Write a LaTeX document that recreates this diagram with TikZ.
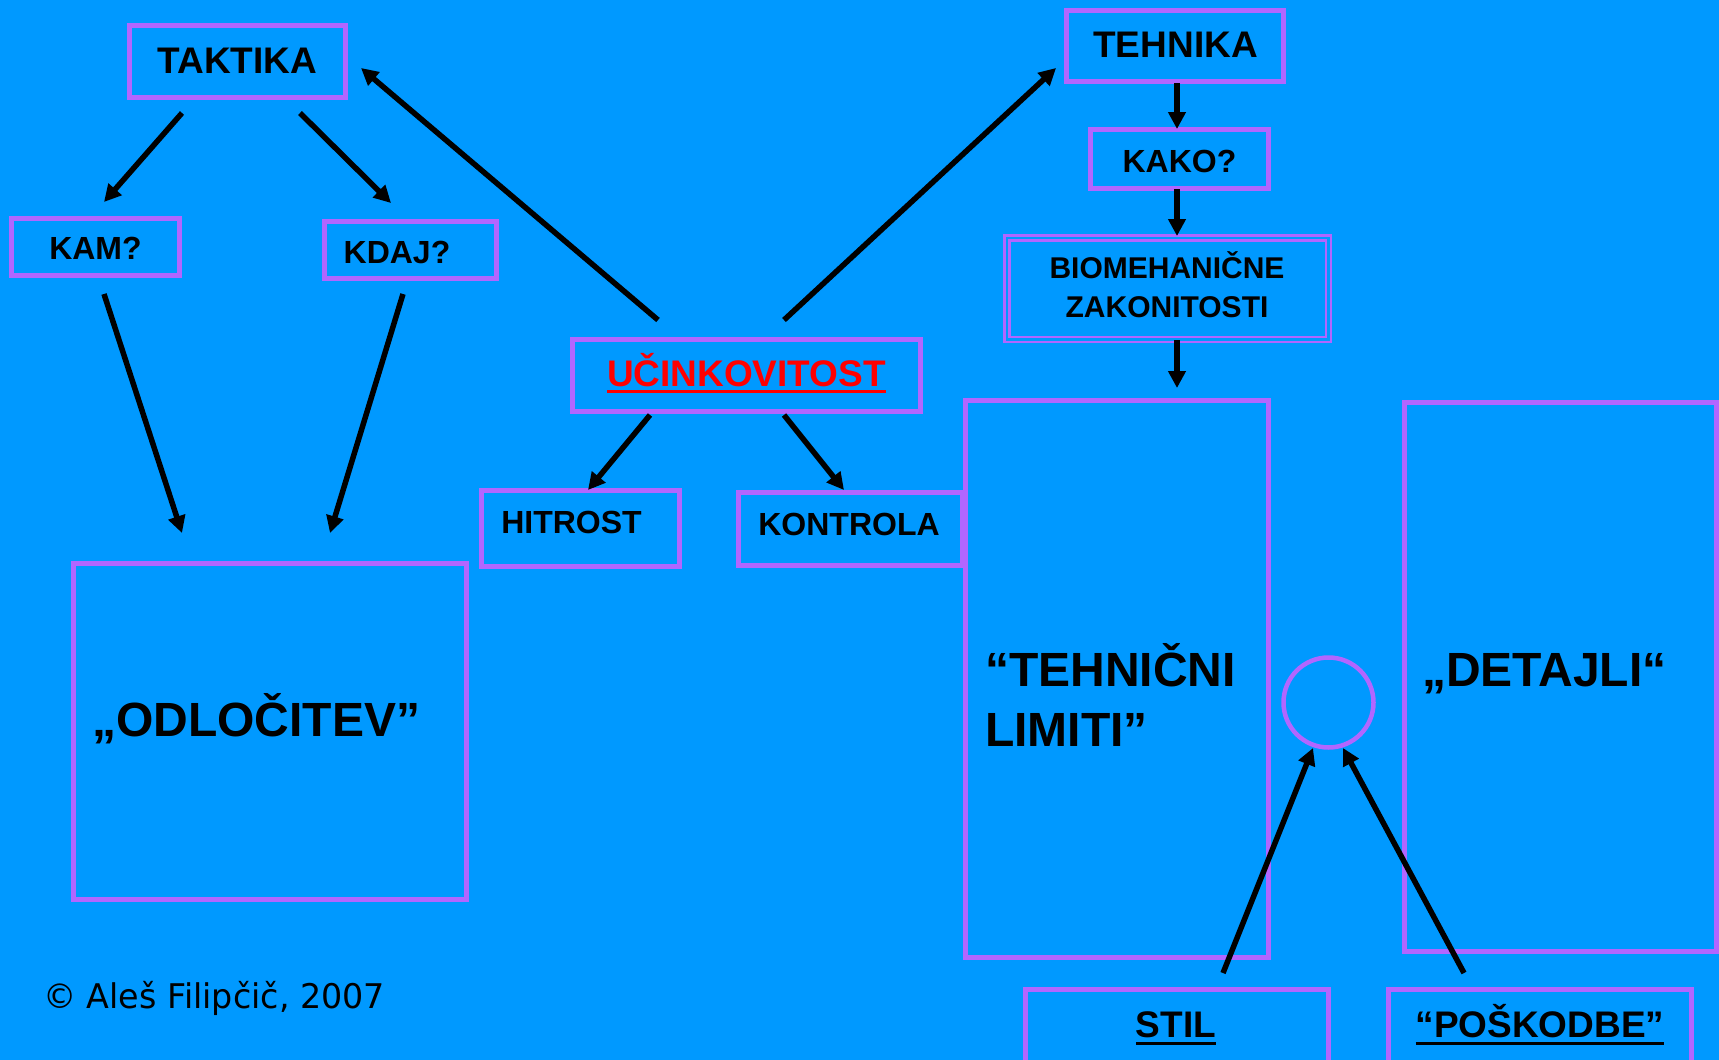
\documentclass[tikz,border=0pt]{standalone}
\usepackage{fontspec}
\setmainfont{Liberation Sans}
\newfontfamily\copyfont[FakeStretch=0.98]{DejaVu Sans}
\usetikzlibrary{arrows.meta}
\definecolor{bgblue}{RGB}{0,153,255}
\definecolor{boxpurple}{RGB}{178,102,255}
\definecolor{ucred}{RGB}{255,0,0}
\begin{document}
\begin{tikzpicture}[x=1pt,y=-1pt,
  box/.style={draw=boxpurple, line width=5pt, rectangle, inner sep=0pt, outer sep=0pt},
  dbox/.style={draw=boxpurple, line width=2.5pt, double=bgblue, double distance=2.5pt, rectangle, inner sep=0pt, outer sep=0pt},
  txt/.style={inner sep=0pt, outer sep=0pt, anchor=base, text=black},
  ftitle/.style={font=\fontsize{37pt}{44pt}\selectfont\bfseries},
  fsmall/.style={font=\fontsize{32pt}{38pt}\selectfont\bfseries},
  fbio/.style={font=\fontsize{30pt}{39pt}\selectfont\bfseries},
  fbig/.style={font=\fontsize{48pt}{60pt}\selectfont\bfseries},
  arr/.style={line width=5.5pt, draw=black, -{Triangle[length=17pt,width=17pt]}},
  uline/.style={draw=black, line width=3.5pt}
]
\useasboundingbox (0,0) rectangle (1719,1060);
\fill[bgblue] (0,0) rectangle (1719,1060);
\begin{scope}
\clip (0,0) rectangle (1719,1060);

% boxes
\node[box, minimum width=216pt, minimum height=72pt] (taktika) at (237.5,61.5) {};
\node[box, minimum width=168pt, minimum height=57pt] (kam) at (95.5,247) {};
\node[box, minimum width=172pt, minimum height=57pt] (kdaj) at (410.5,250) {};
\node[box, minimum width=217pt, minimum height=71pt] (tehnika) at (1175,46) {};
\node[box, minimum width=178pt, minimum height=59pt] (kako) at (1179.5,159) {};
\node[dbox, minimum width=321.5pt, minimum height=101.5pt] (bio) at (1167.5,288.5) {};
\node[box, minimum width=348pt, minimum height=72pt] (uc) at (746.5,375.5) {};
\node[box, minimum width=198pt, minimum height=76pt] (hitrost) at (580.5,528.5) {};
\node[box, minimum width=224pt, minimum height=73pt] (kontrola) at (850.5,529) {};
\node[box, minimum width=303pt, minimum height=557pt] (tehnicni) at (1117,679) {};
\node[box, minimum width=312pt, minimum height=549pt] (detajli) at (1560.5,677) {};
\node[box, minimum width=393pt, minimum height=336pt] (odl) at (270,731.5) {};
\node[box, minimum width=303pt, minimum height=90pt] (stil) at (1177,1034.5) {};
\node[box, minimum width=303pt, minimum height=90pt] (poskodbe) at (1540,1034.5) {};
\node[draw=boxpurple, line width=4.5pt, circle, inner sep=0pt, minimum size=90pt] (krog) at (1328.5,702.5) {};

% texts
\node[txt, ftitle] (taktikaT) at (237.5,73) {TAKTIKA};
\node[txt, fsmall] (kamT) at (95.5,259) {KAM?};
\node[txt, fsmall] (kdajT) at (397,263) {KDAJ?};
\node[txt, ftitle] (tehnikaT) at (1175.5,57) {TEHNIKA};
\node[txt, fsmall] (kakoT) at (1179.5,172) {KAKO?};
\node[txt, fbio, align=center] (bioT) at (1167,317) {BIOMEHANIČNE\\ZAKONITOSTI};
\node[txt, ftitle, text=ucred] (ucT) at (746.5,386) {UČINKOVITOST};
\draw[draw=ucred, line width=3pt] ([yshift=-5.5pt]ucT.base west) -- ([yshift=-5.5pt]ucT.base east);
\node[txt, fsmall] (hitrostT) at (571.5,533) {HITROST};
\node[txt, fsmall] (kontrolaT) at (849,535) {KONTROLA};
\node[txt, fbig, anchor=base west] (odlT) at (92,736) {„ODLOČITEV”};
\node[txt, fbig, anchor=base west, align=left] (tehnicniT) at (985,746) {“TEHNIČNI\\LIMITI”};
\node[txt, fbig, anchor=base west] (detajliT) at (1422,686) {„DETAJLI“};
\node[txt, ftitle] (stilT) at (1176,1037) {STIL};
\draw[uline] ([yshift=-6.5pt]stilT.base west) -- ([yshift=-6.5pt]stilT.base east);
\node[txt, ftitle] (poskodbeT) at (1540,1037) {“POŠKODBE”};
\draw[uline] ([yshift=-6.5pt]poskodbeT.base west) -- ([yshift=-6.5pt]poskodbeT.base east);
\node[txt, anchor=base west, font=\copyfont\fontsize{34pt}{40pt}\selectfont] (copyT) at (43,1008) {© Aleš Filipčič, 2007};

% connector end points
\coordinate (taktikaKamS) at (182,113);
\coordinate (taktikaKamE) at (104,202);
\coordinate (taktikaKdajS) at (300,113);
\coordinate (taktikaKdajE) at (391,203);
\coordinate (kamOdlS) at (104,294);
\coordinate (kamOdlE) at (182,533);
\coordinate (kdajOdlS) at (403,294);
\coordinate (kdajOdlE) at (330,533);
\coordinate (ucTaktikaS) at (658,320);
\coordinate (ucTaktikaE) at (361,68);
\coordinate (ucTehnikaS) at (784,320);
\coordinate (ucTehnikaE) at (1056,68);
\coordinate (ucHitrostS) at (650,415);
\coordinate (ucHitrostE) at (588,490);
\coordinate (ucKontrolaS) at (784,415);
\coordinate (ucKontrolaE) at (844,490);
\coordinate (tehnikaKakoS) at (1177,83);
\coordinate (tehnikaKakoE) at (1177,129);
\coordinate (kakoBioS) at (1177,189);
\coordinate (kakoBioE) at (1177,236);
\coordinate (bioTehS) at (1177,340);
\coordinate (bioTehE) at (1177,388);
\coordinate (stilKrogS) at (1223,973);
\coordinate (stilKrogE) at (1313,748);
\coordinate (poskKrogS) at (1464,973);
\coordinate (poskKrogE) at (1343,748);

% connectors
\draw[arr] (taktikaKamS) -- (taktikaKamE);
\draw[arr] (taktikaKdajS) -- (taktikaKdajE);
\draw[arr] (kamOdlS) -- (kamOdlE);
\draw[arr] (kdajOdlS) -- (kdajOdlE);
\draw[arr] (ucTaktikaS) -- (ucTaktikaE);
\draw[arr] (ucTehnikaS) -- (ucTehnikaE);
\draw[arr] (ucHitrostS) -- (ucHitrostE);
\draw[arr] (ucKontrolaS) -- (ucKontrolaE);
\draw[arr] (tehnikaKakoS) -- (tehnikaKakoE);
\draw[arr] (kakoBioS) -- (kakoBioE);
\draw[arr] (bioTehS) -- (bioTehE);
\draw[arr] (stilKrogS) -- (stilKrogE);
\draw[arr] (poskKrogS) -- (poskKrogE);
\end{scope}
\end{tikzpicture}
\end{document}
